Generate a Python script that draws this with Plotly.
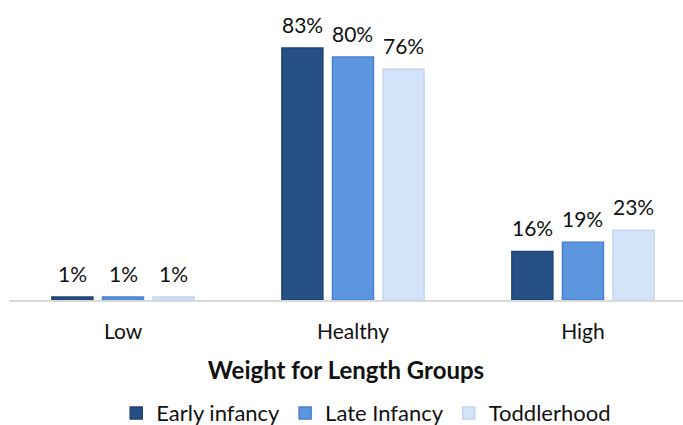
import plotly.graph_objects as go

categories = ["Low", "Healthy", "High"]
series_names = ["Early infancy", "Late Infancy", "Toddlerhood"]
early_infancy = [1, 83, 16]
late_infancy = [1, 80, 19]
toddlerhood = [1, 76, 23]

fills = ["#264F86", "#5B96DF", "#D3E4FA"]
borders = ["#1F4373", "#4A7FCB", "#C3D5EE"]
FONT = "Lato"
TEXT = "#111111"

BARGAP = 0.34
GROUPGAP = 0.19

fig = go.Figure()
x_pos = list(range(len(categories)))
all_series = [early_infancy, late_infancy, toddlerhood]
n = len(all_series)
slot = (1 - BARGAP) / n

for j, (name, vals, fc, lc) in enumerate(zip(series_names, all_series, fills, borders)):
    fig.add_trace(go.Bar(
        x=x_pos, y=vals, name=name,
        marker=dict(color=fc, line=dict(color=lc, width=1.5)),
        hoverinfo="name+y",
    ))
    # value labels sit a little above each bar of this series
    shift = (j - (n - 1) / 2) * slot
    for xi, v in zip(x_pos, vals):
        fig.add_annotation(
            x=xi + shift, y=v, xref="x", yref="y",
            text=f"{v}%", showarrow=False, yanchor="bottom", yshift=9,
            font=dict(family=FONT, size=21, color=TEXT),
        )

fig.update_layout(
    width=683, height=425,
    margin=dict(l=9, r=0, t=10, b=125, autoexpand=False),
    paper_bgcolor="white", plot_bgcolor="white",
    barmode="group", bargap=BARGAP, bargroupgap=GROUPGAP,
    font=dict(family=FONT, size=21, color=TEXT),
    showlegend=True,
    legend=dict(orientation="h", x=0.53, xanchor="center", y=-0.39, yanchor="middle",
                font=dict(family=FONT, size=22, color=TEXT),
                itemwidth=30, tracegroupgap=0),
)
fig.update_xaxes(
    tickmode="array", tickvals=x_pos, ticktext=categories,
    range=[-0.4957, 2.435], showgrid=False, zeroline=False,
    showline=True, linecolor="#D9D9D9", linewidth=2, ticks="",
    ticklabelstandoff=12,
    tickfont=dict(family=FONT, size=21, color=TEXT),
    title=dict(text="<b>Weight for Length Groups</b>",
               font=dict(family=FONT, size=24, color=TEXT), standoff=20),
)
fig.update_yaxes(range=[0, 95.5], visible=False)

fig.write_html("out.html")
